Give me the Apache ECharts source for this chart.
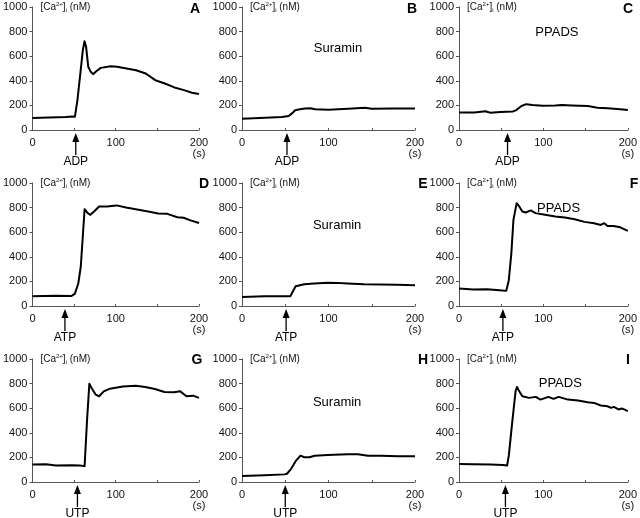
<!DOCTYPE html>
<html><head><meta charset="utf-8">
<script src="https://cdn.jsdelivr.net/npm/echarts/dist/echarts.min.js"></script>
<style>html,body{margin:0;padding:0;background:#fff}#c{width:640px;height:518px}</style>
</head><body><div id="c"></div>
<script>
// time (s) and [Ca2+]i (nM) for each panel
const tA = [0,20,40,48,51,54,57.5,60.5,62.5,64.4,67,70,72.8,76.6,82,94,101.5,113,124.5,136,147.5,159,170.5,182,191.6,200];
const cA = [97,102,106,110,108,243,460,650,722,676,514,473,454,478,505,518,514,500,486,459,405,378,346,324,303,292];
const tB = [0,27,46,54,57.7,61.5,67,73,79,84.6,100,123,142,150,173,200];
const cB = [92,100,106,114,135,160,168,174,176,168,164,172,180,172,174,174];
const tC = [0,18,31.5,34,37,49,64,68,74,79.6,87,99,114,122,133.5,152.7,164,176,191,200];
const cC = [142,143,152,147,140,146,151,162,195,210,203,198,200,204,200,195,181,176,168,162];
const tD = [0,28,47,51,55,58,60.7,62.6,66.4,69.5,74,80,89.4,101,112.5,124,139,151,162,174,181.6,189,200];
const cD = [80,84,82,101,183,319,591,787,755,741,768,809,809,818,801,787,768,752,749,722,717,698,675];
const tE = [0,26,56,58.5,62,72,83.5,99,110,122,141,160,179,200];
const cE = [74,79,80,114,161,177,182,190,188,183,177,174,172,169];
const tF = [0,17,33,48,56,59,62,64.5,68.3,71.4,75,79,85,90.7,102,114,125.5,137,148.6,160,168,172,176,183,191,200];
const cF = [142,134,136,128,123,210,428,700,836,809,768,760,777,755,741,728,720,706,684,673,659,673,651,651,640,610];
const tG = [0,16.5,28,47,57,62.6,65.6,68.3,71,76,80,85.6,93,108.6,124,135.5,147,158.5,170,177.5,185,193,200];
const cG = [142,145,134,137,134,129,509,799,764,710,697,737,759,777,783,772,756,732,729,737,697,702,684];
const tH = [0,26,49,52,56.8,62.5,67.6,72,78,84,99,122,134,145.6,161,180,200];
const cH = [48,54,62,67,107,174,214,201,201,214,220,225,225,214,214,209,209];
const tI = [0,17,37,52,57,59,63,67,68.7,71.4,75,83,91,96.5,106,112,118,129,141,152.5,160,168,176,180,183.5,189,193,200];
const cI = [147,145,142,139,134,214,483,737,772,737,697,684,692,670,692,676,692,670,662,648,643,622,616,603,611,590,598,576];

const panelLetters = ['A','B','C','D','E','F','G','H','I'];
const agonists = ['ADP','ADP','ADP','ATP','ATP','ATP','UTP','UTP','UTP'];
const arrowTimes = [52,52,57.5,39,51,52,54,50,55];
const antagonists = ['','Suramin','PPADS','','Suramin','PPADS','','Suramin','PPADS'];
const xTicks = [0,100,200];
const yTicks = [0,200,400,600,800,1000];

const times = [tA,tB,tC,tD,tE,tF,tG,tH,tI];
const values = [cA,cB,cC,cD,cE,cF,cG,cH,cI];

// layout (pixels)
const lefts = [25,242,459], widths = [174,173,174], tops = [7,183,359], H = 123;
const letterPos = [[195,9],[412,9],[628,9],[204,184],[423,184],[634,184],[197,360],[423,360],[628,360]];
const drugAnchor = [null,[111,667],[116,797],null,[110,658],[118,797],null,[110,645],[120,798]];

const FONT = 'Liberation Sans, Arial, sans-serif';
const chart = echarts.init(document.getElementById('c'), null, {renderer:'canvas'});
const grids=[], xAxes=[], yAxes=[], series=[];
for (let i=0;i<9;i++){
  const r=Math.floor(i/3), col=i%3;
  grids.push({left:lefts[col], top:tops[r], width:widths[col], height:H});
  xAxes.push({gridIndex:i, type:'value', min:0, max:200, interval:50,
    axisLine:{lineStyle:{color:'#555', width:1}},
    axisTick:{inside:true, length:2, lineStyle:{color:'#555'}},
    splitLine:{show:false},
    axisLabel:{color:'#111', fontSize:11, fontFamily:FONT, margin:7, lineHeight:11,
      formatter:v=> xTicks.indexOf(v)<0 ? '' : (v===200 ? '200\n(s)' : String(v))}});
  yAxes.push({gridIndex:i, type:'value', min:0, max:1000, interval:200,
    axisLine:{show:true, lineStyle:{color:'#555', width:1}},
    axisTick:{show:true, length:3, lineStyle:{color:'#555'}},
    splitLine:{show:false},
    axisLabel:{color:'#111', fontSize:11, fontFamily:FONT, margin:5,
      formatter:v=> yTicks.indexOf(v)<0 ? '' : String(v)},
    name:'[Ca{sup|2+}]{sub|i} (nM)', nameLocation:'end', nameGap:0,
    nameTextStyle:{align:'left', verticalAlign:'middle', padding:[0,0,0,8], fontSize:10, fontFamily:FONT, color:'#111', lineHeight:12,
      rich:{sup:{fontSize:6, lineHeight:12, verticalAlign:'top', fontFamily:FONT, color:'#111'},
            sub:{fontSize:6, lineHeight:12, verticalAlign:'bottom', fontFamily:FONT, color:'#111'}}}});
  series.push({type:'line', xAxisIndex:i, yAxisIndex:i, showSymbol:false, silent:true,
    data: times[i].map((t,j)=>[t, values[i][j]]),
    lineStyle:{color:'#000', width:2, join:'round'}});
}
chart.setOption({animation:false, backgroundColor:'#fff', grid:grids, xAxis:xAxes, yAxis:yAxes, series:series});

const g=[];
for (let i=0;i<9;i++){
  const p = chart.convertToPixel({gridIndex:i}, [arrowTimes[i], 0]);
  const x=p[0], y=p[1];
  g.push({type:'line', shape:{x1:x,y1:y+10,x2:x,y2:y+25}, style:{stroke:'#000', lineWidth:1.3}});
  g.push({type:'polygon', shape:{points:[[x,y+3],[x-3.5,y+12],[x+3.5,y+12]]}, style:{fill:'#000'}});
  g.push({type:'text', x:x, y:y+32, style:{text:agonists[i], fontSize:12, fontFamily:FONT, fill:'#000',
    textAlign:'center', textVerticalAlign:'middle', align:'center', verticalAlign:'middle'}});
  g.push({type:'text', x:letterPos[i][0], y:letterPos[i][1], style:{text:panelLetters[i], fontSize:14, fontWeight:'bold', fontFamily:FONT, fill:'#000',
    textAlign:'center', textVerticalAlign:'middle', align:'center', verticalAlign:'middle'}});
  if (drugAnchor[i]){
    const q = chart.convertToPixel({gridIndex:i}, drugAnchor[i]);
    g.push({type:'text', x:q[0], y:q[1], style:{text:antagonists[i], fontSize:13, fontFamily:FONT, fill:'#000',
      textAlign:'center', textVerticalAlign:'middle', align:'center', verticalAlign:'middle'}});
  }
}
chart.setOption({graphic:{elements:g}});
</script></body></html>
